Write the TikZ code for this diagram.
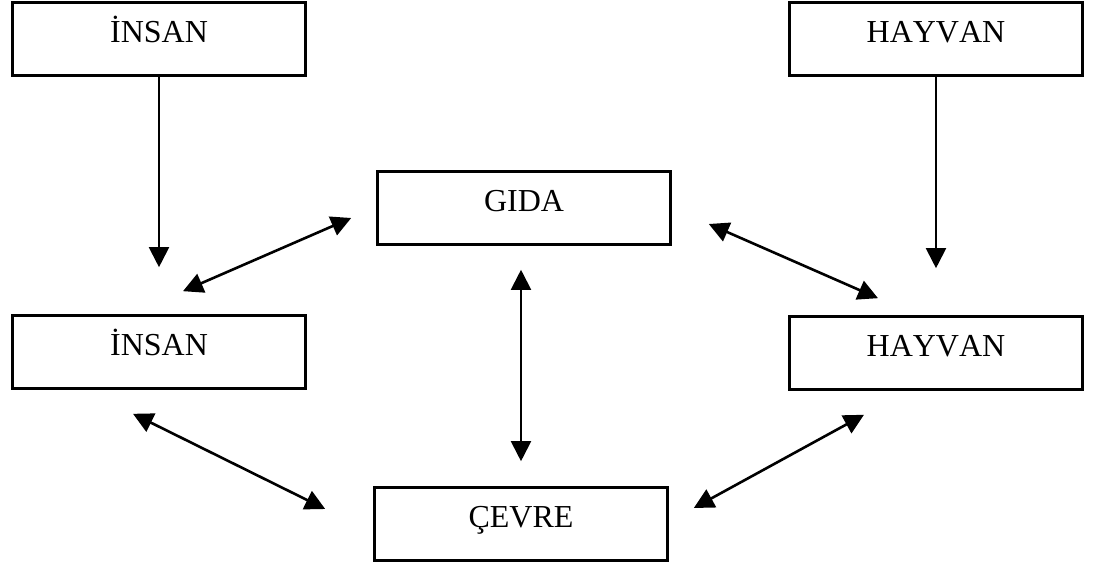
\documentclass[tikz,border=0pt]{standalone}
\usepackage{fontspec}
\setmainfont{Liberation Serif}[Kerning=Off]
\usetikzlibrary{arrows.meta}
\begin{document}
\begin{tikzpicture}[x=1pt,y=1pt,
  kutu/.style={draw=black,line width=2.6pt,rectangle,inner sep=0pt,minimum width=293pt,
    text height=40pt,text depth=33pt,font=\fontsize{32}{38}\selectfont},
  ok/.style={-{Triangle[length=20pt,width=20pt]},line width=2pt},
  ciftok/.style={{Triangle[length=20pt,width=20pt]}-{Triangle[length=20pt,width=20pt]},line width=2.6pt}]
\path[use as bounding box,fill=white] (0,0) rectangle (1093,564);

\node[kutu] (insanA) at (159,525) {İNSAN};
\node[kutu] (hayvanA) at (936,525) {HAYVAN};
\node[kutu] (gida) at (524,356) {GIDA};
\node[kutu] (insanB) at (159,212) {İNSAN};
\node[kutu] (hayvanB) at (936,211) {HAYVAN};
\node[kutu] (cevre) at (521,40) {ÇEVRE};

\draw[ok,shorten >=47pt] (insanA) -- (insanB);
\draw[ok,shorten >=47pt] (hayvanA) -- (hayvanB);
\draw[ciftok,line width=2pt,shorten <=24pt,shorten >=25pt] (gida.south -| cevre.north) -- (cevre.north);

\draw[ciftok] ([shift={(-25pt,-10pt)}]gida.west) -- ([shift={(24pt,23pt)}]insanB.north);
\draw[ciftok] ([shift={(37pt,-16pt)}]gida.east) -- ([shift={(-58pt,17pt)}]hayvanB.north);
\draw[ciftok] ([shift={(-26pt,-24pt)}]insanB.south) -- ([shift={(-48pt,15pt)}]cevre.west);
\draw[ciftok] ([shift={(-72pt,-24pt)}]hayvanB.south) -- ([shift={(25pt,16pt)}]cevre.east);
\end{tikzpicture}
\end{document}
